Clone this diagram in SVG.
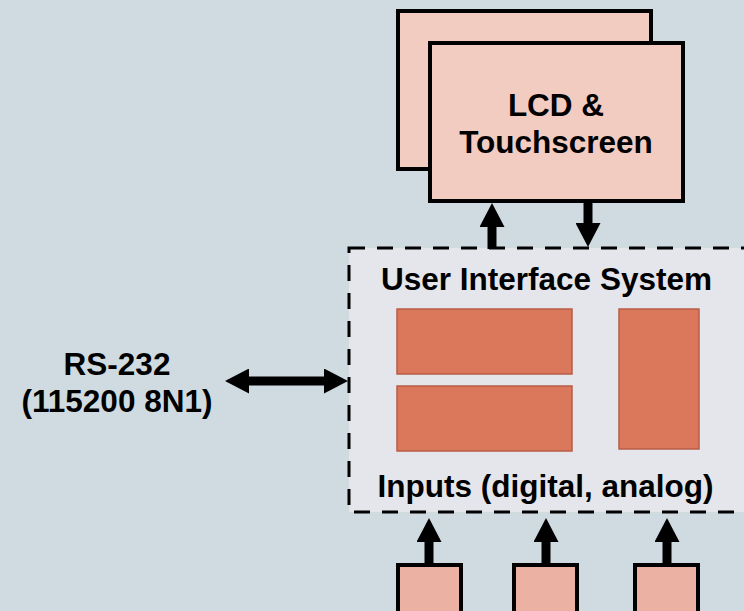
<svg xmlns="http://www.w3.org/2000/svg" width="744" height="611" viewBox="0 0 744 611">
<style>
.t{font-family:"Liberation Sans",Arial,sans-serif;font-weight:bold;font-size:31.5px;fill:#000;text-anchor:middle}
.lcd{fill:#f2cbc1;stroke:#000;stroke-width:4}
.blk{fill:#db785c;stroke:#b65c45;stroke-width:1.5}
.inp{fill:#ebb2a4;stroke:#000;stroke-width:4}
.arr{stroke:#000;stroke-width:9;fill:none;marker-end:url(#ah)}
</style>
<defs>
<marker id="ah" markerUnits="userSpaceOnUse" markerWidth="24" markerHeight="25" viewBox="0 0 24 25" refX="2" refY="12.5" orient="auto-start-reverse">
<path d="M0,0 L24,12.5 L0,25 z" fill="#000"/>
</marker>
</defs>
<rect width="744" height="611" fill="#cfdbe1"/>
<g id="system">
<rect x="349" y="248" width="396.5" height="264" fill="#e4e6eb" stroke="#000" stroke-width="3" stroke-dasharray="16 12"/>
<text class="t" x="546.5" y="290">User Interface System</text>
<text class="t" x="545.5" y="497">Inputs (digital, analog)</text>
</g>
<g id="block1"><rect class="blk" x="397" y="309" width="175" height="65"/></g>
<g id="block2"><rect class="blk" x="397" y="386" width="175" height="65"/></g>
<g id="block3"><rect class="blk" x="619" y="309" width="80" height="140"/></g>
<g id="lcd">
<rect class="lcd" x="398" y="11" width="253" height="158"/>
<rect class="lcd" x="430" y="43" width="253" height="158"/>
<text class="t" x="556" y="116">LCD &amp;</text>
<text class="t" x="556" y="153">Touchscreen</text>
</g>
<g id="rs232">
<text class="t" x="117" y="375">RS-232</text>
<text class="t" x="117" y="412">(115200 8N1)</text>
</g>
<g id="input1"><rect class="inp" x="398" y="565" width="63" height="60"/></g>
<g id="input2"><rect class="inp" x="514" y="565" width="63" height="60"/></g>
<g id="input3"><rect class="inp" x="635" y="565" width="63" height="60"/></g>
<g id="connectors">
<line class="arr" x1="492" y1="249" x2="492" y2="225"/>
<line class="arr" x1="588" y1="203" x2="588" y2="225"/>
<line class="arr" x1="429" y1="564" x2="429" y2="540"/>
<line class="arr" x1="546" y1="564" x2="546" y2="540"/>
<line class="arr" x1="667" y1="564" x2="667" y2="540"/>
<line class="arr" stroke-width="7" style="marker-start:url(#ah)" x1="247" y1="381" x2="326" y2="381"/>
</g>
</svg>
